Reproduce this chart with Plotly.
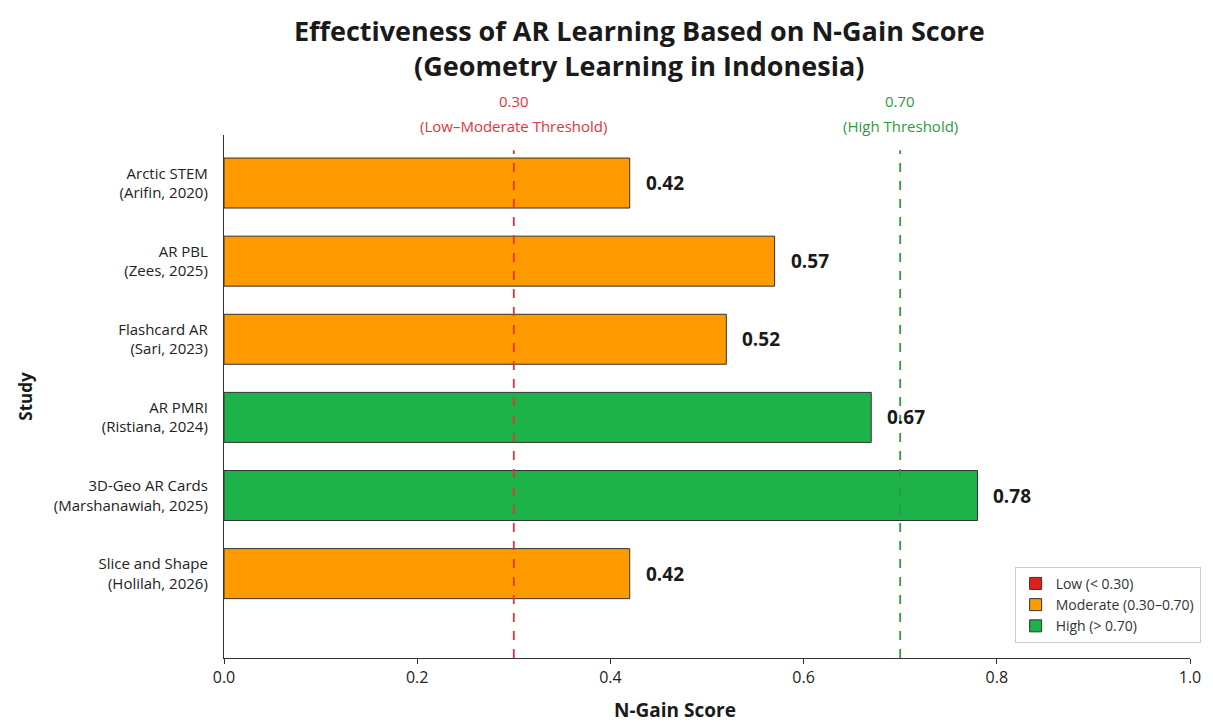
import plotly.graph_objects as go

studies = [
    "Arctic STEM<br>(Arifin, 2020)",
    "AR PBL<br>(Zees, 2025)",
    "Flashcard AR<br>(Sari, 2023)",
    "AR PMRI<br>(Ristiana, 2024)",
    "3D-Geo AR Cards<br>(Marshanawiah, 2025)",
    "Slice and Shape<br>(Holilah, 2026)",
]
ngain = [0.42, 0.57, 0.52, 0.67, 0.78, 0.42]
levels = ["Moderate", "Moderate", "Moderate", "High", "High", "Moderate"]
level_names = ["Low", "Moderate", "High"]
level_labels = ["Low (< 0.30)", "Moderate (0.30–0.70)", "High (> 0.70)"]
level_colors = ["#e0201b", "#ff9b00", "#1db34a"]
thresholds = [0.30, 0.70]
threshold_values = ["0.30", "0.70"]
threshold_names = ["(Low–Moderate Threshold)", "(High Threshold)"]
threshold_colors = ["#e8333a", "#2e9a3e"]
x_ticks = [0.0, 0.2, 0.4, 0.6, 0.8, 1.0]

FONT = "Open Sans"
fig = go.Figure()

for name, lab, col in zip(level_names, level_labels, level_colors):
    xs = [v for v, l in zip(ngain, levels) if l == name]
    ys = [s for s, l in zip(studies, levels) if l == name]
    if not xs:
        xs, ys = [None], [studies[0]]
    fig.add_trace(go.Bar(
        x=xs, y=ys, orientation="h", name=lab,
        marker=dict(color=col, line=dict(color="#333333", width=1)),
        width=0.64, showlegend=True, hoverinfo="x+y",
    ))

for v, s in zip(ngain, studies):
    fig.add_annotation(x=v, y=s, text=f"<b>{v:.2f}</b>", showarrow=False,
                       xanchor="left", xshift=14,
                       font=dict(family=FONT, size=19, color="#1a1a1a"))

for t, val, nm, col in zip(thresholds, threshold_values, threshold_names, threshold_colors):
    fig.add_shape(type="line", xref="x", yref="paper", x0=t, x1=t, y0=0, y1=0.971,
                  line=dict(color=col, width=1.8, dash="dash"))
    fig.add_annotation(x=t, xref="x", y=1.0, yref="paper", yanchor="middle",
                       text=nm, showarrow=False, yshift=9,
                       font=dict(family=FONT, size=15, color=col))
    fig.add_annotation(x=t, xref="x", y=1.0, yref="paper", yanchor="middle",
                       text=val, showarrow=False, yshift=34,
                       font=dict(family=FONT, size=15, color=col))

fig.add_annotation(x=0.467, xref="paper", y=-0.099, yref="paper", yanchor="middle",
                   text="<b>N-Gain Score</b>", showarrow=False,
                   font=dict(family=FONT, size=19, color="#1a1a1a"))

fig.update_layout(
    width=1213, height=726,
    margin=dict(l=224, r=17, t=135, b=68),
    paper_bgcolor="white", plot_bgcolor="white",
    font=dict(family=FONT, color="#333333"),
    barmode="relative",
    title=dict(text="<b>Effectiveness of AR Learning Based on N-Gain Score<br>(Geometry Learning in Indonesia)</b>",
               x=0.527, xanchor="center", y=0.943, yanchor="top",
               font=dict(family=FONT, size=27, color="#1a1a1a")),
    xaxis=dict(range=[0, 1.0], tickvals=x_ticks, tickformat=".1f",
               showgrid=False, zeroline=False, showline=True, linecolor="#333333", linewidth=1.3,
               ticks="outside", ticklen=5, tickcolor="#333333",
               tickfont=dict(family=FONT, size=16, color="#222222")),
    yaxis=dict(type="category", categoryorder="array", categoryarray=studies,
               range=[6.08, -0.615], showgrid=False, zeroline=False, showline=True,
               linecolor="#333333", linewidth=1.3, ticks="", ticklabelstandoff=12,
               tickfont=dict(family=FONT, size=15, color="#222222"),
               title=dict(text="<b>Study</b>", standoff=16,
                          font=dict(family=FONT, size=17, color="#1a1a1a"))),
    legend=dict(x=1.011, xanchor="right", y=0.029, yanchor="bottom",
                bordercolor="#cccccc", borderwidth=1, bgcolor="white",
                font=dict(family=FONT, size=14, color="#333333"),
                itemwidth=30, tracegroupgap=0),
)

fig.write_html("out.html")
